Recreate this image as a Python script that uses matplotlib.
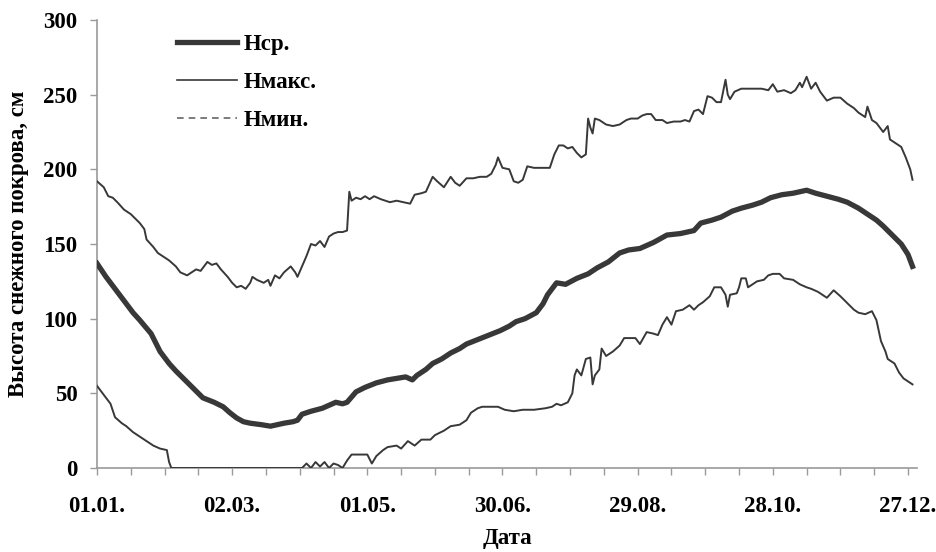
import matplotlib
matplotlib.use("Agg")
import matplotlib.pyplot as plt
from matplotlib.lines import Line2D

# ---- data (day of year, snow depth in cm) ----
avg_days = [1, 5, 9, 13, 17, 20, 25, 29, 33, 36, 42, 48, 53, 57, 60, 63, 66, 69, 74, 78,
            81, 84, 88, 90, 92, 96, 101, 104, 107, 110, 112, 116, 120, 125, 130, 134, 138,
            141, 143, 147, 150, 154, 158, 162, 165, 170, 175, 180, 184, 187, 191, 196, 199,
            201, 205, 209, 214, 219, 223, 228, 233, 237, 242, 248, 254, 260, 266, 269, 274,
            278, 283, 287, 292, 296, 300, 305, 310, 316, 320, 325, 330, 334, 339, 343, 347,
            350, 354, 358, 361, 363]
avg_vals = [137, 128, 120, 112, 104, 99, 90, 78, 70, 65, 56, 47, 44, 41, 37, 33.5, 31, 30, 29, 28,
            29, 30, 31, 32, 36, 38, 40, 42, 44, 43, 44, 51, 54, 57, 59, 60, 61,
            59, 62, 66, 70, 73, 77, 80, 83, 86, 89, 92, 95, 98, 100, 104, 110,
            116, 124, 123, 127, 130, 134, 138, 144, 146, 147, 151, 156, 157, 159, 164, 166,
            168, 172, 174, 176, 178, 181, 183, 184, 186, 184, 182, 180, 178, 174, 170, 166,
            162, 156, 150, 143, 135]

max_days = [1, 4, 6, 8, 10, 13, 16, 20, 22, 23, 26, 28, 31, 33, 36, 38, 41, 43, 45, 47, 50, 52,
            54, 56, 59, 61, 63, 65, 67, 69, 70, 72, 75, 77, 78, 80, 82, 84, 87, 89, 90, 92, 94,
            96, 98, 100, 102, 104, 106, 108, 110, 112, 113, 114, 116, 118, 120, 122, 124, 127,
            129, 131, 134, 137, 140, 142, 145, 147, 150, 152, 155, 158, 160, 162, 165, 168, 171,
            174, 176, 178, 179, 181, 184, 186, 188, 190, 192, 195, 198, 202, 204, 206, 208, 210,
            212, 214, 216, 218, 219, 220, 221, 222, 224, 227, 230, 233, 236, 238, 241, 243, 245,
            247, 249, 252, 254, 257, 260, 262, 264, 266, 268, 270, 272, 274, 276, 278, 280, 281,
            282, 284, 287, 290, 293, 296, 299, 301, 303, 306, 309, 311, 313, 314, 316, 318, 320,
            322, 325, 328, 331, 334, 337, 339, 342, 343, 345, 347, 350, 352, 353, 356, 358, 360,
            362, 363]
max_vals = [192, 188, 182, 181, 178, 173, 170, 164, 160, 153, 148, 144, 141, 139, 135, 131, 129,
            131, 133, 132, 138, 136, 137, 133, 128, 124, 121, 122, 120, 124, 128, 126, 124, 126,
            122, 129, 127, 131, 135, 131, 128, 135, 142, 150, 149, 152, 148, 155, 157, 158, 158,
            159, 185, 179, 181, 180, 182, 180, 182, 180, 179, 178, 179, 178, 177, 183, 184, 185,
            195, 192, 188, 195, 191, 189, 194, 194, 195, 195, 197, 203, 208, 201, 200, 192, 191,
            193, 202, 201, 201, 201, 210, 216, 216, 214, 215, 211, 208, 210, 234, 228, 224, 234,
            233, 230, 229, 230, 233, 234, 234, 236, 237, 237, 233, 233, 231, 232, 232, 233, 232,
            239, 240, 237, 249, 248, 245, 245, 260, 250, 247, 252, 254, 254, 254, 254, 253, 257,
            252, 253, 251, 253, 258, 255, 262, 254, 258, 252, 246, 248, 248, 244, 241, 238, 235,
            242, 233, 231, 225, 229, 220, 217, 215, 208, 200, 193]

min_days = [1, 3, 5, 7, 9, 12, 14, 17, 20, 23, 26, 29, 32, 33, 34, 92, 94, 96, 98, 100, 102,
            104, 106, 108, 110, 112, 114, 118, 121, 123, 125, 128, 130, 134, 136, 139, 142, 145,
            149, 151, 155, 158, 162, 165, 167, 170, 172, 176, 179, 182, 186, 190, 195, 200, 203,
            205, 207, 210, 212, 213, 214, 216, 218, 220, 221, 222, 224, 225, 227, 230, 233, 235,
            240, 242, 245, 248, 250, 252, 254, 256, 258, 261, 264, 266, 268, 270, 273, 275, 278,
            280, 281, 282, 285, 286, 287, 289, 290, 292, 294, 297, 299, 301, 304, 306, 310, 313,
            316, 318, 321, 323, 325, 328, 331, 333, 335, 337, 339, 342, 345, 347, 349, 351, 352,
            355, 357, 359, 361, 363]
min_vals = [55, 51, 47, 43, 34, 30, 28, 24, 21, 18, 15, 13, 12, 4, 0, 0, 3, 0, 4, 1, 4,
            0, 3, 2, 0, 5, 9, 9, 9, 3, 8, 12, 14, 15, 13, 18, 15, 19,
            19, 22, 25, 28, 29, 32, 37, 40, 41, 41, 41, 39, 38, 39, 39, 40, 41,
            43, 42, 44, 50, 62, 66, 62, 73, 74, 56, 62, 66, 80, 75, 78, 82, 87,
            87, 83, 91, 90, 89, 96, 101, 96, 105, 106, 109, 106, 109, 111, 115, 121, 121,
            116, 108, 116, 117, 121, 127, 127, 121, 123, 125, 126, 129, 130, 130, 127, 126, 123,
            121, 120, 118, 116, 114, 119, 115, 112, 109, 106, 104, 103, 105, 99, 85, 78, 73,
            70, 64, 60, 58, 56]

series_names = ["Нср.", "Нмакс.", "Нмин."]
tick_days = list(range(1, 366, 15))
label_days = [1, 61, 121, 181, 241, 301, 361]
label_texts = ["01.01.", "02.03.", "01.05.", "30.06.", "29.08.", "28.10.", "27.12."]
y_ticks = [0, 50, 100, 150, 200, 250, 300]

plt.rcParams['font.family'] = ['Liberation Serif', 'DejaVu Serif']
plt.rcParams['font.weight'] = 'bold'
FS = 16.5

fig = plt.figure(figsize=(9.36, 5.52), dpi=100)
ax = fig.add_axes([97/936, 1-468/552, (917-97)/936, (468-20)/552])

line_col = '#383838'
ax.plot(avg_days, avg_vals, color=line_col, lw=3.8, solid_joinstyle='round', zorder=3)
ax.plot(max_days, max_vals, color=line_col, lw=1.4, zorder=3)
ax.plot(min_days, min_vals, color=line_col, lw=1.4, zorder=3)

ax.set_xlim(1, 365)
ax.set_ylim(0, 300)

ax.set_xticks(tick_days)
ax.set_xticklabels([label_texts[label_days.index(d)] if d in label_days else '' for d in tick_days])
ax.set_yticks(y_ticks)

for s in ['top', 'right']:
    ax.spines[s].set_visible(False)
for s in ['left', 'bottom']:
    ax.spines[s].set_color('#9a9a9a')
    ax.spines[s].set_linewidth(1.2)

ax.tick_params(axis='x', direction='out', length=5, width=1, color='#9a9a9a', pad=15, labelsize=FS)
ax.tick_params(axis='y', direction='out', length=5, width=1, color='#9a9a9a', pad=9, labelsize=FS)
for lab in ax.get_xticklabels() + ax.get_yticklabels():
    lab.set_fontweight('bold')

ax.set_ylabel("Высота снежного покрова, см", fontsize=FS, fontweight='bold', labelpad=10)
ax.set_xlabel("Дата", fontsize=FS, fontweight='bold', labelpad=8)

handles = [Line2D([], [], color=line_col, lw=3.8),
           Line2D([], [], color=line_col, lw=1.2),
           Line2D([], [], color='#666666', lw=1.2, ls=(0, (4, 3)))]
leg = fig.legend(handles, series_names, loc='upper left',
                 bbox_to_anchor=(177/936, 1-34/552), frameon=False,
                 borderpad=0, borderaxespad=0, handlelength=2.6, handletextpad=0.3,
                 labelspacing=0.74, prop={'size': FS, 'weight': 'bold'})

fig.savefig("out.png", dpi=100)
